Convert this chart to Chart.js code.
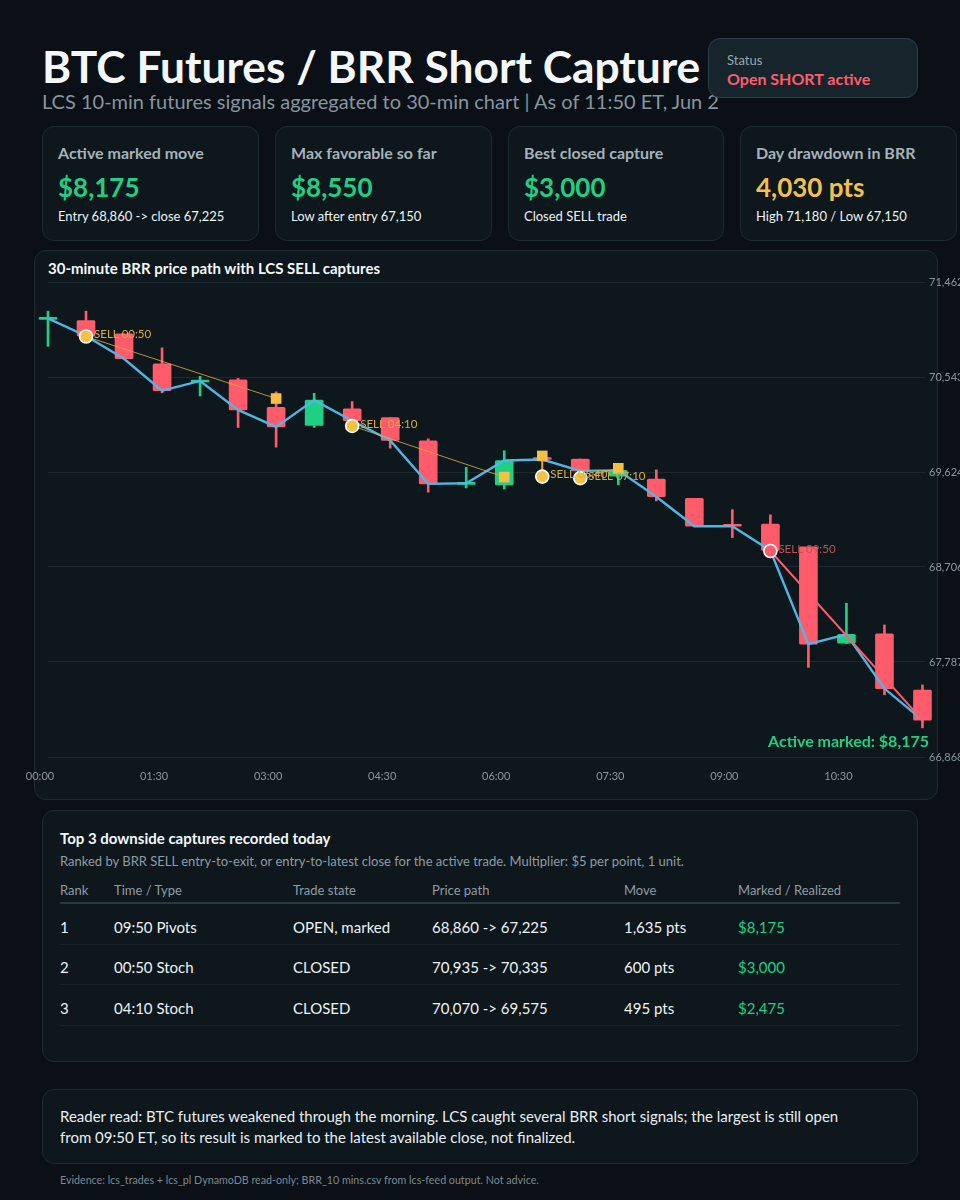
<!DOCTYPE html>
<html>
<head>
<meta charset="utf-8">
<script src="https://cdn.jsdelivr.net/npm/chart.js@4.4.1/dist/chart.umd.min.js"></script>
<style>
  body { margin:0; background:#0a1015; width:960px; height:1200px; position:relative; overflow:hidden;
         font-family: Lato, "Noto Sans", sans-serif; color:#e9eef1; }
  .card { position:absolute; background:#0d171c; border:1px solid #1d2b31; border-radius:12px; box-sizing:border-box; }
  .t { position:absolute; white-space:nowrap; line-height:1; }
  .kl { font-size:16px; font-weight:700; color:#a6b2ba; left:15px; top:18px; }
  .kv { font-size:26px; font-weight:700; left:15px; top:47px; }
  .ks { font-size:13px; color:#eef2f4; left:15px; top:83px; }
  .th { font-size:13px; color:#8f9ca5; top:884px; }
  .td { font-size:15px; color:#eef2f4; }
  .sep { position:absolute; left:60px; width:840px; height:1px; background:#172329; }
  #chart { position:absolute; left:0; top:250px; }
</style>
</head>
<body>

<div class="t" style="left:42px;top:43.5px;font-size:44.3px;font-weight:700;color:#f4f7f9">BTC Futures / BRR Short Capture</div>
<div class="t" style="left:42px;top:90.5px;font-size:20px;color:#8795a0">LCS 10-min futures signals aggregated to 30-min chart | As of 11:50 ET, Jun 2</div>

<div class="card" style="left:708px;top:38px;width:210px;height:60px;background:#16252c;border-color:#2a3f48">
  <div class="t" style="left:18px;top:15px;font-size:13px;color:#9aa7af">Status</div>
  <div class="t" style="left:18px;top:32px;font-size:16px;font-weight:700;color:#ff5b6a">Open SHORT active</div>
</div>

<div class="card" style="left:42px;top:126px;width:217px;height:115px">
  <div class="t kl">Active marked move</div>
  <div class="t kv" style="color:#1fcf84">$8,175</div>
  <div class="t ks">Entry 68,860 -&gt; close 67,225</div>
</div>
<div class="card" style="left:275px;top:126px;width:217px;height:115px">
  <div class="t kl">Max favorable so far</div>
  <div class="t kv" style="color:#1fcf84">$8,550</div>
  <div class="t ks">Low after entry 67,150</div>
</div>
<div class="card" style="left:508px;top:126px;width:216px;height:115px">
  <div class="t kl">Best closed capture</div>
  <div class="t kv" style="color:#1fcf84">$3,000</div>
  <div class="t ks">Closed SELL trade</div>
</div>
<div class="card" style="left:740px;top:126px;width:217px;height:115px">
  <div class="t kl">Day drawdown in BRR</div>
  <div class="t kv" style="color:#f3c14b">4,030 pts</div>
  <div class="t ks">High 71,180 / Low 67,150</div>
</div>

<div class="card" style="left:34px;top:250px;width:904px;height:550px"></div>
<div class="t" style="left:48px;top:261px;font-size:15px;font-weight:700;color:#f4f7f9">30-minute BRR price path with LCS SELL captures</div>
<canvas id="chart" width="960" height="550"></canvas>
<div class="t" style="right:31px;top:733px;font-size:16px;font-weight:700;color:#1fcf84">Active marked: $8,175</div>

<div class="card" style="left:42px;top:810px;width:876px;height:252px"></div>
<div class="t" style="left:60px;top:831px;font-size:15px;font-weight:700;color:#f4f7f9">Top 3 downside captures recorded today</div>
<div class="t" style="left:60px;top:855px;font-size:13px;color:#8f9ca5">Ranked by BRR SELL entry-to-exit, or entry-to-latest close for the active trade. Multiplier: $5 per point, 1 unit.</div>
<div id="table"></div>
<div class="sep" style="top:902px;height:2px;background:#263a42"></div>
<div class="sep" style="top:944px"></div>
<div class="sep" style="top:984px"></div>
<div class="sep" style="top:1025px"></div>

<div class="card" style="left:42px;top:1089px;width:876px;height:75px"></div>
<div class="t" style="left:60px;top:1106px;font-size:15px;line-height:21px;color:#e9eef1">Reader read: BTC futures weakened through the morning. LCS caught several BRR short signals; the largest is still open<br>from 09:50 ET, so its result is marked to the latest available close, not finalized.</div>
<div class="t" style="left:60px;top:1175px;font-size:10.7px;color:#7c8992">Evidence: lcs_trades + lcs_pl DynamoDB read-only; BRR_10 mins.csv from lcs-feed output. Not advice.</div>

<script>
// 30-min buckets (ET)
const candleTimes = ['00:00','00:30','01:00','01:30','02:00','02:30','03:00','03:30','04:00','04:30','05:00','05:30',
                     '06:00','06:30','07:00','07:30','08:00','08:30','09:00','09:30','10:00','10:30','11:00','11:30'];
const opens  = [71100, 71090, 70960, 70670, 70495, 70515, 70250, 70075, 70235, 70150, 69925, 69505,
                69500, 69750, 69750, 69585, 69555, 69370, 69110, 69120, 68900, 67970, 68060, 67515];
const highs  = [71180, 71180, 70960, 70825, 70550, 70530, 70400, 70385, 70305, 70150, 69945, 69670,
                69830, 69760, 69750, 69660, 69645, 69370, 69260, 69210, 68900, 68355, 68145, 67565];
const lows   = [70840, 70935, 70715, 70390, 70360, 70055, 69865, 70055, 70115, 69855, 69430, 69470,
                69460, 69735, 69625, 69500, 69345, 69095, 68990, 68860, 67735, 67965, 67470, 67150];
const closes = [71110, 70940, 70720, 70410, 70505, 70225, 70060, 70320, 70120, 69930, 69510, 69515,
                69735, 69745, 69635, 69640, 69385, 69100, 69100, 68865, 67960, 68055, 67530, 67225];

const xTickLabels = ['00:00','01:30','03:00','04:30','06:00','07:30','09:00','10:30'];
const yTickValues = [66868, 67787, 68706, 69624, 70543, 71462];

// LCS SELL trades
const tradeLabels  = ['SELL 00:50','SELL 04:10','SELL 06:40','SELL 07:10','SELL 09:50'];
const entryBuckets = ['00:30','04:00','06:30','07:00','09:30'];
const entryPrices  = [70935, 70070, 69580, 69565, 68860];
const exitBuckets  = ['03:00','06:00','06:30','07:30','11:30'];
const exitPrices   = [70335, 69575, 69780, 69660, 67225];
const tradeOpen    = [false, false, false, false, true];

// table
const tableCols = [60, 114, 293, 432, 624, 738];
const tableHead = ['Rank','Time / Type','Trade state','Price path','Move','Marked / Realized'];
const tableRows = [
  ['1','09:50 Pivots','OPEN, marked','68,860 -> 67,225','1,635 pts','$8,175'],
  ['2','00:50 Stoch','CLOSED','70,935 -> 70,335','600 pts','$3,000'],
  ['3','04:10 Stoch','CLOSED','70,070 -> 69,575','495 pts','$2,475']
];
const rowTops = [919.5, 960, 1001];

const RED = '#ff5b6a', GREEN = '#1fcf84', YELLOW = '#f4c145', BLUE = '#4fb7e6';
const FONT = 'Lato, "Noto Sans", sans-serif';

function toMin(s) {
  return Number(s.slice(0, 2)) * 60 + Number(s.slice(3));
}

// Table
const tableEl = document.getElementById('table');
tableHead.forEach((h, c) => {
  const d = document.createElement('div');
  d.className = 't th';
  d.style.left = tableCols[c] + 'px';
  d.textContent = h;
  tableEl.appendChild(d);
});
tableRows.forEach((row, r) => {
  row.forEach((txt, c) => {
    const d = document.createElement('div');
    d.className = 't td';
    d.style.left = tableCols[c] + 'px';
    d.style.top = rowTops[r] + 'px';
    if (c === 5) d.style.color = GREEN;
    d.textContent = txt;
    tableEl.appendChild(d);
  });
});

// Chart datasets
const candleColors = closes.map((c, i) => (c >= opens[i] ? GREEN : RED));
const bodies = candleTimes.map((t, i) => ({ x: toMin(t), y: [opens[i], closes[i]] }));
const wicks = candleTimes.map((t, i) => ({ x: toMin(t), y: [lows[i], highs[i]] }));
const closeLine = candleTimes.map((t, i) => ({ x: toMin(t), y: closes[i] }));

const connectors = tradeLabels.map((lbl, i) => {
  const same = entryBuckets[i] === exitBuckets[i];
  return {
    type: 'line',
    data: [
      { x: toMin(entryBuckets[i]), y: entryPrices[i] },
      { x: toMin(exitBuckets[i]), y: exitPrices[i] }
    ],
    borderColor: tradeOpen[i] ? RED : (same ? '#e8a13c' : 'rgba(226,178,62,0.8)'),
    borderWidth: tradeOpen[i] ? 2 : (same ? 2 : 1),
    pointRadius: 0,
    order: 3
  };
});

const closedIdx = tradeLabels.map((l, i) => i).filter(i => !tradeOpen[i]);

const tradeLabelPlugin = {
  id: 'tradeLabels',
  afterDatasetsDraw(chart) {
    const ctx = chart.ctx;
    const xs = chart.scales.x;
    const ys = chart.scales.y;
    ctx.save();
    ctx.font = '11.5px ' + FONT;
    ctx.textBaseline = 'middle';
    tradeLabels.forEach((txt, i) => {
      ctx.fillStyle = tradeOpen[i] ? '#c24e5a' : '#d8ac45';
      ctx.fillText(txt, xs.getPixelForValue(toMin(entryBuckets[i])) + 8, ys.getPixelForValue(entryPrices[i]) - 2);
    });
    ctx.restore();
  }
};

new Chart(document.getElementById('chart'), {
  type: 'bar',
  data: {
    datasets: [
      {
        data: wicks,
        backgroundColor: candleColors,
        barThickness: 2,
        grouped: false,
        minBarLength: 1,
        clip: false,
        order: 10
      },
      {
        data: bodies,
        backgroundColor: candleColors,
        barThickness: 18,
        grouped: false,
        minBarLength: 2,
        borderRadius: 1.5,
        borderSkipped: false,
        clip: false,
        order: 9
      },
      {
        type: 'line',
        data: closeLine,
        borderColor: BLUE,
        borderWidth: 2.4,
        pointRadius: 0,
        tension: 0,
        order: 5
      },
      ...connectors,
      {
        type: 'scatter',
        data: closedIdx.map(i => ({ x: toMin(exitBuckets[i]), y: exitPrices[i] })),
        pointStyle: 'rect',
        pointRadius: 7.5,
        backgroundColor: YELLOW,
        borderWidth: 0,
        clip: false,
        order: 2
      },
      {
        type: 'scatter',
        data: tradeLabels.map((l, i) => ({ x: toMin(entryBuckets[i]), y: entryPrices[i] })),
        pointStyle: 'circle',
        pointRadius: 6.5,
        backgroundColor: tradeOpen.map(o => (o ? RED : YELLOW)),
        borderColor: '#ffffff',
        borderWidth: 1.6,
        clip: false,
        order: 1
      }
    ]
  },
  options: {
    responsive: false,
    animation: false,
    events: [],
    layout: { padding: { left: 48, top: 32, right: 0, bottom: 0 } },
    plugins: { legend: { display: false }, tooltip: { enabled: false } },
    scales: {
      x: {
        type: 'linear',
        min: 0,
        max: 692,
        offset: false,
        grid: { display: false },
        border: { display: false },
        afterBuildTicks: s => { s.ticks = xTickLabels.map(l => ({ value: toMin(l) })); },
        afterFit: s => { s.height = 43; },
        ticks: {
          autoSkip: false,
          maxRotation: 0,
          padding: 5,
          labelOffset: -8,
          color: '#8a969f',
          font: { family: FONT, size: 11 },
          callback: (v, i) => xTickLabels[i]
        }
      },
      y: {
        position: 'right',
        min: yTickValues[0],
        max: yTickValues[yTickValues.length - 1],
        grid: { color: '#1b2a31', lineWidth: 1, drawTicks: false },
        border: { display: false },
        afterBuildTicks: s => { s.ticks = yTickValues.map(v => ({ value: v })); },
        afterFit: s => { s.width = 35; },
        ticks: {
          padding: 4,
          color: '#8a969f',
          font: { family: FONT, size: 11 },
          callback: v => v.toLocaleString('en-US')
        }
      }
    }
  },
  plugins: [tradeLabelPlugin]
});
</script>
</body>
</html>
